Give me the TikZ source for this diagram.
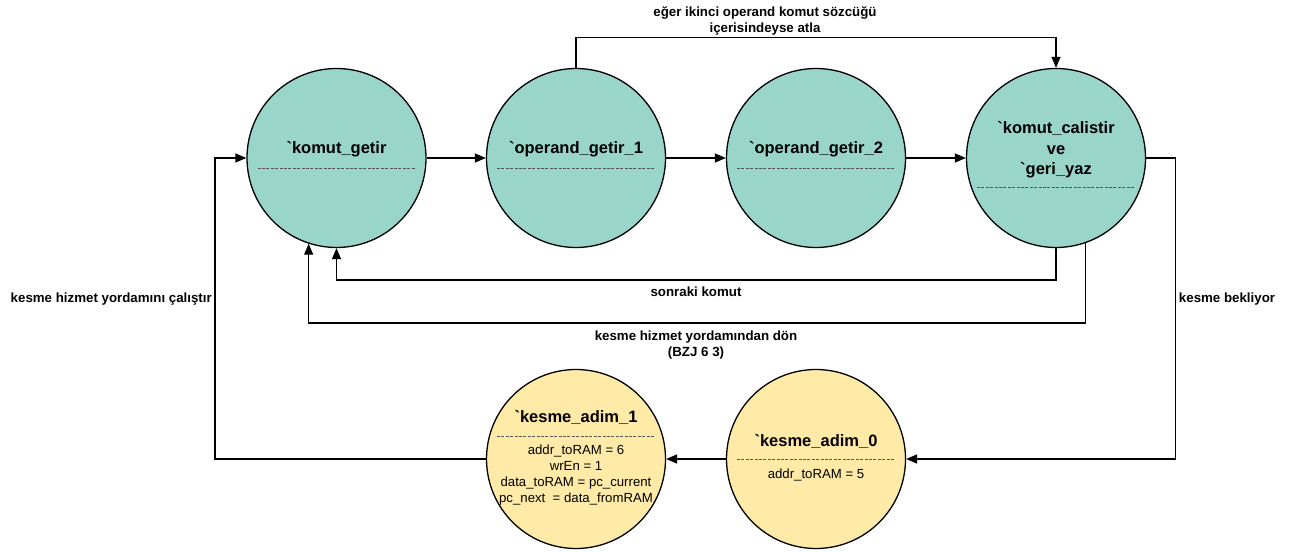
\documentclass[tikz,border=0pt]{standalone}
\usepackage{fontspec}
\setmainfont{Liberation Sans}
\newfontfamily\bqfont{Liberation Sans}
\usetikzlibrary{arrows.meta,calc}
\definecolor{tealfill}{HTML}{9AD5CA}
\definecolor{yelfill}{HTML}{FFEAA7}
\definecolor{sepgray}{HTML}{555555}
\newcommand{\bq}{{\bqfont\symbol{96}}}
\begin{document}
\begin{tikzpicture}[x=1pt,y=-1pt,
  st/.style={circle,draw=black,line width=1.3pt,minimum size=179pt,inner sep=0pt},
  tst/.style={st,fill=tealfill},
  yst/.style={st,fill=yelfill},
  ttl/.style={font=\fontsize{16.5}{20.5}\selectfont\bfseries,align=center,inner sep=0pt},
  body/.style={font=\fontsize{13.2}{16}\selectfont,align=center,inner sep=0pt},
  lbl/.style={font=\fontsize{13.3}{16}\selectfont\bfseries,align=center,inner sep=0pt},
  sep/.style={draw=sepgray,dash pattern=on 3pt off 1.4pt,line width=0.8pt},
  arr/.style={draw=black,line width=1.3pt,-{Triangle[length=11pt,width=9pt]}}
]
\useasboundingbox (0,0) rectangle (1297,553);
% states
\node[tst] (kg) at (336.5,158) {};
\node[tst] (op1) at (576,158) {};
\node[tst] (op2) at (816,158) {};
\node[tst] (kc) at (1056,158) {};
\node[yst] (ka1) at (576,459) {};
\node[yst] (ka0) at (816,459) {};
% titles
\node[ttl] (kgt) at (336.5,149) {\bq komut\_getir};
\node[ttl] (op1t) at (576,149) {\bq operand\_getir\_1};
\node[ttl] (op2t) at (816,149) {\bq operand\_getir\_2};
\node[ttl] (kct) at (1056,150) {\bq komut\_calistir\\ve\\\bq geri\_yaz};
\node[ttl] (ka1t) at (576,417) {\bq kesme\_adim\_1};
\node[ttl] (ka0t) at (816,441) {\bq kesme\_adim\_0};
\node[body] (ka1b) at (576,475) {addr\_toRAM = 6\\wrEn = 1\\data\_toRAM = pc\_current\\pc\_next\ \ = data\_fromRAM};
\node[body] (ka0b) at (816,475) {addr\_toRAM = 5};
% separators
\draw[sep] (kg.center) ++(-79,10) -- ++(158,0);
\draw[sep] (op1.center) ++(-79,10) -- ++(158,0);
\draw[sep] (op2.center) ++(-79,10) -- ++(158,0);
\draw[sep] (kc.center) ++(-79,29) -- ++(158,0);
\draw[sep] (ka1.center) ++(-79,-23) -- ++(158,0);
\draw[sep] (ka0.center) ++(-79,0) -- ++(158,0);
% connectors
\draw[arr] (kg) -- (op1);
\draw[arr] (op1) -- (op2);
\draw[arr] (op2) -- (kc);
\draw[arr] (op1.north) -- ++(0,-30) -| (kc.north);
\coordinate (sk) at (700,280);
\draw[arr] (kc.south) |- (sk) -| (kg.south);
\coordinate (dn) at (700,323);
\draw[arr] (kc.-71.8) |- (dn) -| (kg.-108.2);
\draw[arr] (kc.east) -- ++(29,0) |- (ka0.east);
\draw[arr] (ka0) -- (ka1);
\draw[arr] (ka1.west) -- ++(-271,0) |- (kg.west);
% labels
\node[lbl] (l1) at (765,21) {eğer ikinci operand komut sözcüğü\\içerisindeyse atla};
\node[lbl] (l2) at (696,292) {sonraki komut};
\node[lbl] (l3) at (696,345) {kesme hizmet yordamından dön\\(BZJ 6 3)};
\node[lbl] (l4) at (1227,299) {kesme bekliyor};
\node[lbl,anchor=east] (l5) at (212,299) {kesme hizmet yordamını çalıştır};
\end{tikzpicture}
\end{document}
